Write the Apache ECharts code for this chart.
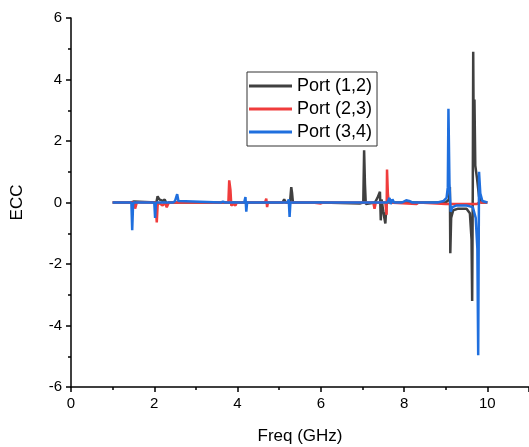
<!DOCTYPE html>
<html>
<head>
<meta charset="utf-8">
<script src="https://cdn.jsdelivr.net/npm/echarts@6/dist/echarts.min.js"></script>
<style>html,body{margin:0;padding:0;background:#fff}#c{width:529px;height:447px}</style>
</head>
<body>
<div id="c"></div>
<script>
var seriesNames = ['Port (1,2)', 'Port (2,3)', 'Port (3,4)'];
var xTicks = [0, 2, 4, 6, 8, 10];
var yTicks = [-6, -4, -2, 0, 2, 4, 6];

var freq12 = [1.0,1.44,1.46,1.48,1.5,1.52,2.05,2.08,2.1,2.12,2.15,2.2,2.25,2.3,2.35,3.98,4.02,4.06,5.08,5.12,5.16,5.26,5.29,5.31,5.33,6.0,6.02,6.95,7.02,7.04,7.06,7.08,7.1,7.3,7.36,7.42,7.44,7.46,7.5,7.55,7.58,9.0,9.08,9.1,9.11,9.13,9.18,9.3,9.5,9.58,9.62,9.635,9.65,9.66,9.675,9.69,9.71,9.75,9.8,9.85,10.0];
var ecc12  = [0,0,0.05,0,0.03,0,0,0.2,0.24,0.1,0.15,0.05,0.1,-0.05,0,0,0.05,0,0,0.1,0,0,0.5,0.3,0,0,-0.03,-0.03,0,1.7,0.6,-0.05,0,0,0.15,0.35,-0.58,0.1,-0.3,-0.68,0,0,0.1,0.5,-1.65,-0.5,-0.25,-0.2,-0.2,-0.35,-1.2,-3.2,0.5,4.9,1.5,3.35,1.2,0.8,0.2,0,0];

var freq23 = [1.0,1.52,1.54,1.56,1.58,2.03,2.06,2.08,2.1,2.2,2.25,2.3,2.35,3.78,3.8,3.83,3.85,3.9,3.95,3.98,4.1,4.12,4.15,4.66,4.69,4.71,4.73,5.8,5.82,6.0,6.05,7.26,7.29,7.32,7.55,7.58,7.59,7.61,7.63,7.65,8.3,8.35,9.0,9.75,9.8,10.0];
var ecc23  = [0,0,-0.2,-0.1,0,0,-0.65,-0.1,0,-0.1,0,-0.15,0,0,0.72,0.4,-0.1,-0.05,-0.1,0,0,-0.05,0,0,0.13,-0.15,0,0,-0.05,-0.03,0,0,-0.2,0,0,-0.4,1.07,0.3,0,-0.05,-0.05,0,-0.05,-0.05,0,0];

var freq34 = [1.0,1.45,1.47,1.49,1.5,2.0,2.02,2.04,2.45,2.5,2.55,2.58,2.62,3.6,3.65,3.7,4.16,4.19,4.21,4.23,5.2,5.23,5.25,5.27,7.6,7.65,7.68,7.72,7.76,7.95,8.05,8.12,8.2,8.8,8.95,9.02,9.05,9.065,9.09,9.12,9.16,9.25,9.5,9.65,9.72,9.76,9.78,9.8,9.83,9.88,9.92,10.0];
var ecc34  = [0,0,-0.9,-0.1,0,0,-0.5,0,0,0.05,0.27,0.05,0,0,0.03,0,0,0.18,-0.3,0,0,0.1,-0.47,0,0,0.15,-0.05,0.1,0,0,0.07,0.05,0,0,0.05,0.15,0.5,3.05,0.6,-0.3,-0.15,-0.1,-0.1,-0.15,-0.5,-1.5,-4.97,1.0,0.3,0.05,0,0];

function pairs(xs, ys) { return xs.map(function (x, i) { return [x, ys[i]]; }); }
var colors = ['#404040', '#f03c3c', '#1f6fde'];
var dataSets = [pairs(freq12, ecc12), pairs(freq23, ecc23), pairs(freq34, ecc34)];

var chart = echarts.init(document.getElementById('c'), null, {renderer: 'canvas'});
var font = '"Liberation Sans", Arial, sans-serif';
chart.setOption({
  animation: false,
  backgroundColor: '#ffffff',
  grid: {left: 71, right: 0, top: 18, bottom: 60, containLabel: false, outerBoundsMode: 'none'},
  legend: {
    orient: 'vertical', left: 247, top: 72,
    data: seriesNames.map(function (n) { return {name: n, icon: 'rect'}; }),
    backgroundColor: '#ffffff', borderColor: '#333', borderWidth: 1,
    padding: [5, 5, 5, 2],
    itemWidth: 43, itemHeight: 3, itemGap: 5,
    textStyle: {fontFamily: font, fontSize: 18, lineHeight: 18, color: '#000'}
  },
  xAxis: {
    type: 'value', min: 0, max: 11, interval: 2,
    name: 'Freq (GHz)', nameLocation: 'middle', nameGap: 41,
    nameTextStyle: {fontFamily: font, fontSize: 17, color: '#000'},
    axisLine: {show: true, onZero: false, lineStyle: {color: '#000', width: 1.5}},
    axisTick: {show: true, inside: false, length: 5, lineStyle: {color: '#000', width: 1.5}},
    minorTick: {show: true, splitNumber: 2, length: 3, lineStyle: {color: '#000', width: 1.5}},
    axisLabel: {fontFamily: font, fontSize: 15, color: '#000', margin: 9,
      formatter: function (v) { return xTicks.indexOf(v) >= 0 ? String(v) : ''; }},
    splitLine: {show: false}
  },
  yAxis: {
    type: 'value', min: -6, max: 6, interval: 2,
    name: 'ECC', nameLocation: 'middle', nameGap: 45, nameRotate: 90,
    nameTextStyle: {fontFamily: font, fontSize: 17, color: '#000'},
    axisLine: {show: true, onZero: false, lineStyle: {color: '#000', width: 1.5}},
    axisTick: {show: true, inside: false, length: 5, lineStyle: {color: '#000', width: 1.5}},
    minorTick: {show: true, splitNumber: 2, length: 3, lineStyle: {color: '#000', width: 1.5}},
    axisLabel: {fontFamily: font, fontSize: 15, color: '#000', margin: 9,
      formatter: function (v) { return yTicks.indexOf(v) >= 0 ? String(v) : ''; }},
    splitLine: {show: false}
  },
  series: seriesNames.map(function (n, i) {
    return {
      name: n, type: 'line', data: dataSets[i], symbol: 'none', showSymbol: false,
      color: colors[i], lineStyle: {color: colors[i], width: 2.5}, z: 2 + i
    };
  })
});
</script>
</body>
</html>
